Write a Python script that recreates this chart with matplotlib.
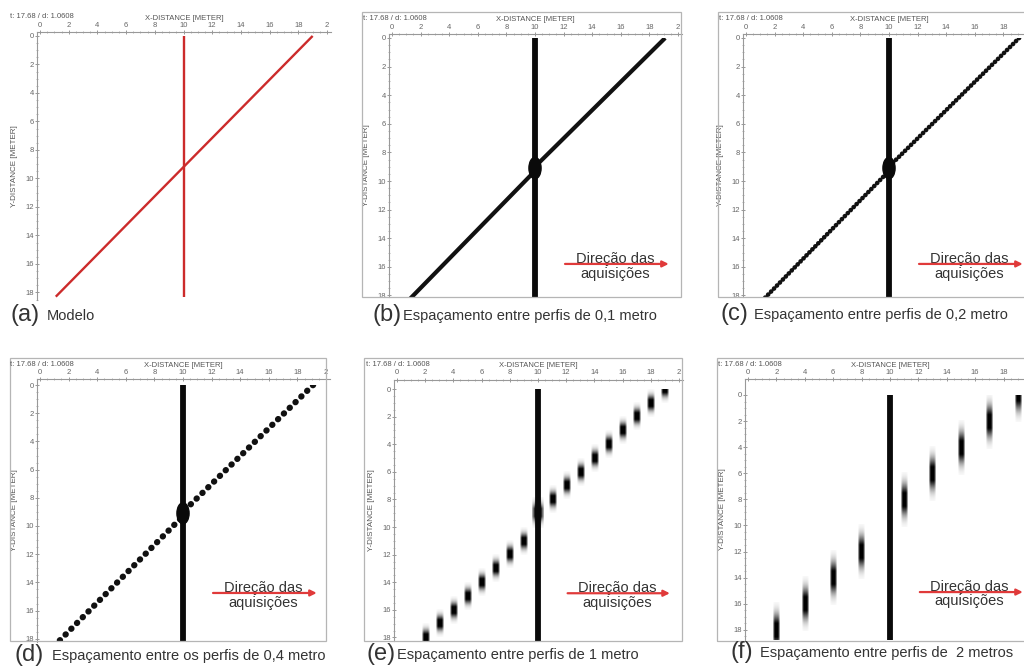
import matplotlib.pyplot as plt
import numpy as np
from matplotlib.patches import Ellipse, Rectangle

plt.rcParams['font.family'] = ['Liberation Sans', 'DejaVu Sans']

W, H = 1024, 668

# survey model (meters): vertical pipe at x = 10 and a diagonal pipe
pipe_x = 10.0
pipe_y = [0.0, 18.8]
diag_x = [19.0, 1.1]
diag_y = [0.0, 18.3]

# diagonal as imaged by the dense surveys (upper / lower branch)
upper_x = [19.1, 10.2]
upper_y = [0.0, 8.8]
lower_x = [9.8, 1.2]
lower_y = [9.5, 18.3]
cross_x, cross_y = 10.0, 9.1

# reflections on the 1 m profile grid
e_x = [19, 18, 17, 16, 15, 14, 13, 12, 11, 9, 8, 7, 6, 5, 4, 3, 2]
e_y = [0, 1, 2, 3, 4, 5, 6, 7, 8, 11, 12, 13, 14, 15, 16, 17, 18]
# reflections on the 2 m profile grid
f_x = [19, 17, 15, 13, 11, 8, 6, 4, 2]
f_y = [0, 2, 4, 6, 8, 12, 14, 16, 18]

letters = ['(a)', '(b)', '(c)', '(d)', '(e)', '(f)']
captions = ['Modelo',
            'Espaçamento entre perfis de 0,1 metro',
            'Espaçamento entre perfis de 0,2 metro',
            'Espaçamento entre os perfis de 0,4 metro',
            'Espaçamento entre perfis de 1 metro',
            'Espaçamento entre perfis de  2 metros']

x_ticks = np.arange(0, 21, 2)
x_ticklabels = ['0', '2', '4', '6', '8', '10', '12', '14', '16', '18', '2']
y_ticks = np.arange(0, 19, 2)

# panel layout in pixels: x of 0 m, px per m (x), y of 0 m, px per m (y),
# ruler position and bottom (m), frame box (or None), last x tick shown
panels = [
    dict(x0=40, sx=14.35, y0=36, sy=14.4, top=-0.25, bot=18.3, frame=None, nx=11),
    dict(x0=392, sx=14.3, y0=38, sy=14.3, top=-0.28, bot=18.1, frame=(362, 12, 681, 297), nx=11),
    dict(x0=746, sx=14.3, y0=38, sy=14.3, top=-0.28, bot=18.1, frame=(718, 12, 1030, 297), nx=10),
    dict(x0=40, sx=14.3, y0=385, sy=14.1, top=-0.4, bot=18.2, frame=(10, 358, 326, 641), nx=11),
    dict(x0=397, sx=14.1, y0=389, sy=13.8, top=-0.68, bot=18.25, frame=(364, 358, 682, 641), nx=11),
    dict(x0=748, sx=14.2, y0=395, sy=13.05, top=-1.2, bot=18.75, frame=(717, 358, 1030, 641), nx=10),
]
cap_pos = [(10, 320, 47), (372, 320, 403), (721, 319, 754),
           (15, 660, 52), (366, 659, 397), (730, 657, 760)]
arrow_y = [None, 15.8, 15.8, 14.75, 14.8, 15.1]

fig = plt.figure(figsize=(W / 100, H / 100), dpi=100)
fig.patch.set_facecolor('white')

XMIN, XMAX = -0.2, 20.25


def make_axes(p):
    left = p['x0'] + XMIN * p['sx']
    right = p['x0'] + XMAX * p['sx']
    top = p['y0'] + p['top'] * p['sy']
    bottom = p['y0'] + p['bot'] * p['sy']
    ax = fig.add_axes([left / W, 1 - bottom / H, (right - left) / W, (bottom - top) / H])
    ax.set_xlim(XMIN, XMAX)
    ax.set_ylim(p['bot'], p['top'])
    for s in ('bottom', 'right'):
        ax.spines[s].set_visible(False)
    for s in ('top', 'left'):
        ax.spines[s].set_color('#999999')
        ax.spines[s].set_linewidth(0.8)
    ax.xaxis.tick_top()
    ax.xaxis.set_label_position('top')
    ax.set_xticks(x_ticks[:p['nx']])
    ax.set_xticklabels(x_ticklabels[:p['nx']])
    ax.set_xticks(np.arange(0, 20.01, 0.5), minor=True)
    ax.set_yticks(y_ticks)
    ax.set_yticks(np.arange(0, 18.51, 0.5), minor=True)
    ax.tick_params(which='major', direction='inout', length=3, width=0.6,
                   color='#888888', labelsize=5.5, labelcolor='#666666', pad=1)
    ax.tick_params(which='minor', direction='inout', length=1.6, width=0.5,
                   color='#999999')
    ax.set_xlabel('X-DISTANCE [METER]', fontsize=5.5, color='#555555', labelpad=1.5)
    ax.set_ylabel('Y-DISTANCE [METER]', fontsize=5.8, color='#555555', labelpad=5)
    ax.set_facecolor('none')
    return ax


def data_clip(ax, p):
    return Rectangle((XMIN, 0), XMAX - XMIN, p['bot'], transform=ax.transData)


def blob(ax, p, x, y, width, half, sigma):
    t = np.linspace(-half, half, 80)
    alpha = np.exp(-(t / sigma) ** 2)
    edge = np.array([0.35, 0.8, 1, 1, 1, 1, 0.8, 0.35])
    rgba = np.zeros((len(t), len(edge), 4))
    rgba[..., 3] = np.clip(1.25 * alpha, 0, 1)[:, None] * edge[None, :]
    im = ax.imshow(rgba, extent=(x - width / 2, x + width / 2, y + half, y - half),
                   aspect='auto', interpolation='bilinear', zorder=3)
    im.set_clip_path(data_clip(ax, p))


def acquisition_arrow(ax, y):
    ax.annotate('', xy=(19.35, y), xytext=(12.1, y),
                arrowprops=dict(arrowstyle='-|>', color='#e03a3a', lw=1.6,
                                mutation_scale=9, shrinkA=0, shrinkB=0),
                annotation_clip=False, zorder=5)
    ax.text(15.6, y - 0.08, 'Direção das', fontsize=10.5, color='#333333',
            ha='center', va='baseline', zorder=4)
    ax.text(15.6, y + 1.0, 'aquisições', fontsize=10.5, color='#333333',
            ha='center', va='baseline', zorder=4)


axes = [make_axes(p) for p in panels]

# (a) model
ax = axes[0]
ax.plot(diag_x, diag_y, color='#cc2b2b', lw=1.7, solid_capstyle='butt')
ax.plot([pipe_x, pipe_x], [0, panels[0]['bot']], color='#cc2b2b', lw=1.7,
        solid_capstyle='butt')

# (b)-(d): dense grids, diagonal imaged as line / beads / dots
dash_styles = ['-', (0, (0.05, 0.87)), (0, (0.05, 1.25))]
dash_widths = [3.0, 3.3, 4.5]
for k, (ls, lw) in enumerate(zip(dash_styles, dash_widths), start=1):
    ax = axes[k]
    p = panels[k]
    for bx, by in ((upper_x, upper_y), (lower_x, lower_y)):
        line, = ax.plot(bx, by, color='#111111', lw=lw, ls=ls,
                        solid_capstyle='butt', dash_capstyle='round')
        line.set_clip_path(data_clip(ax, p))
    ax.add_patch(Ellipse((cross_x, cross_y), 0.85, 1.5, color='#0a0a0a', zorder=4))

# (e) 1 m grid
ax = axes[4]
for x, y in zip(e_x, e_y):
    blob(ax, panels[4], x, y, 0.5, 1.0, 0.5)
blob(ax, panels[4], cross_x, 9.0, 0.8, 1.1, 0.6)

# (f) 2 m grid
ax = axes[5]
for x, y in zip(f_x, f_y):
    blob(ax, panels[5], x, y, 0.45, 2.1, 1.1)

# vertical pipe in every survey panel
for k in range(1, 6):
    ax = axes[k]
    line, = ax.plot([pipe_x, pipe_x], pipe_y, color='#0a0a0a', lw=4.2,
                    solid_capstyle='butt', zorder=4)
    line.set_clip_path(data_clip(ax, panels[k]))
    acquisition_arrow(ax, arrow_y[k])
    ax.set_xlim(XMIN, XMAX)
    ax.set_ylim(panels[k]['bot'], panels[k]['top'])

# panel frames and run headers
for p in panels:
    if p['frame'] is not None:
        x1, y1, x2, y2 = p['frame']
        fig.add_artist(Rectangle((x1 / W, 1 - y2 / H), (x2 - x1) / W, (y2 - y1) / H,
                                 transform=fig.transFigure, fill=False,
                                 ec='#b5b5b5', lw=0.9))
header_xy = [(10, 17), (363, 18), (719, 18), (10, 365), (366, 365), (718, 365)]
for hx, hy in header_xy:
    fig.text(hx / W, 1 - hy / H, 't: 17.68 / d: 1.0608', fontsize=5.5,
             color='#555555', va='center', ha='left')

# captions
for (lx, base, tx), letter, cap in zip(cap_pos, letters, captions):
    fig.text(lx / W, 1 - (base + 1) / H, letter, fontsize=17, color='#333333',
             va='baseline', ha='left')
    fig.text(tx / W, 1 - base / H, cap, fontsize=10.5, color='#333333',
             va='baseline', ha='left')

fig.savefig('out.png', dpi=100, facecolor='white')
